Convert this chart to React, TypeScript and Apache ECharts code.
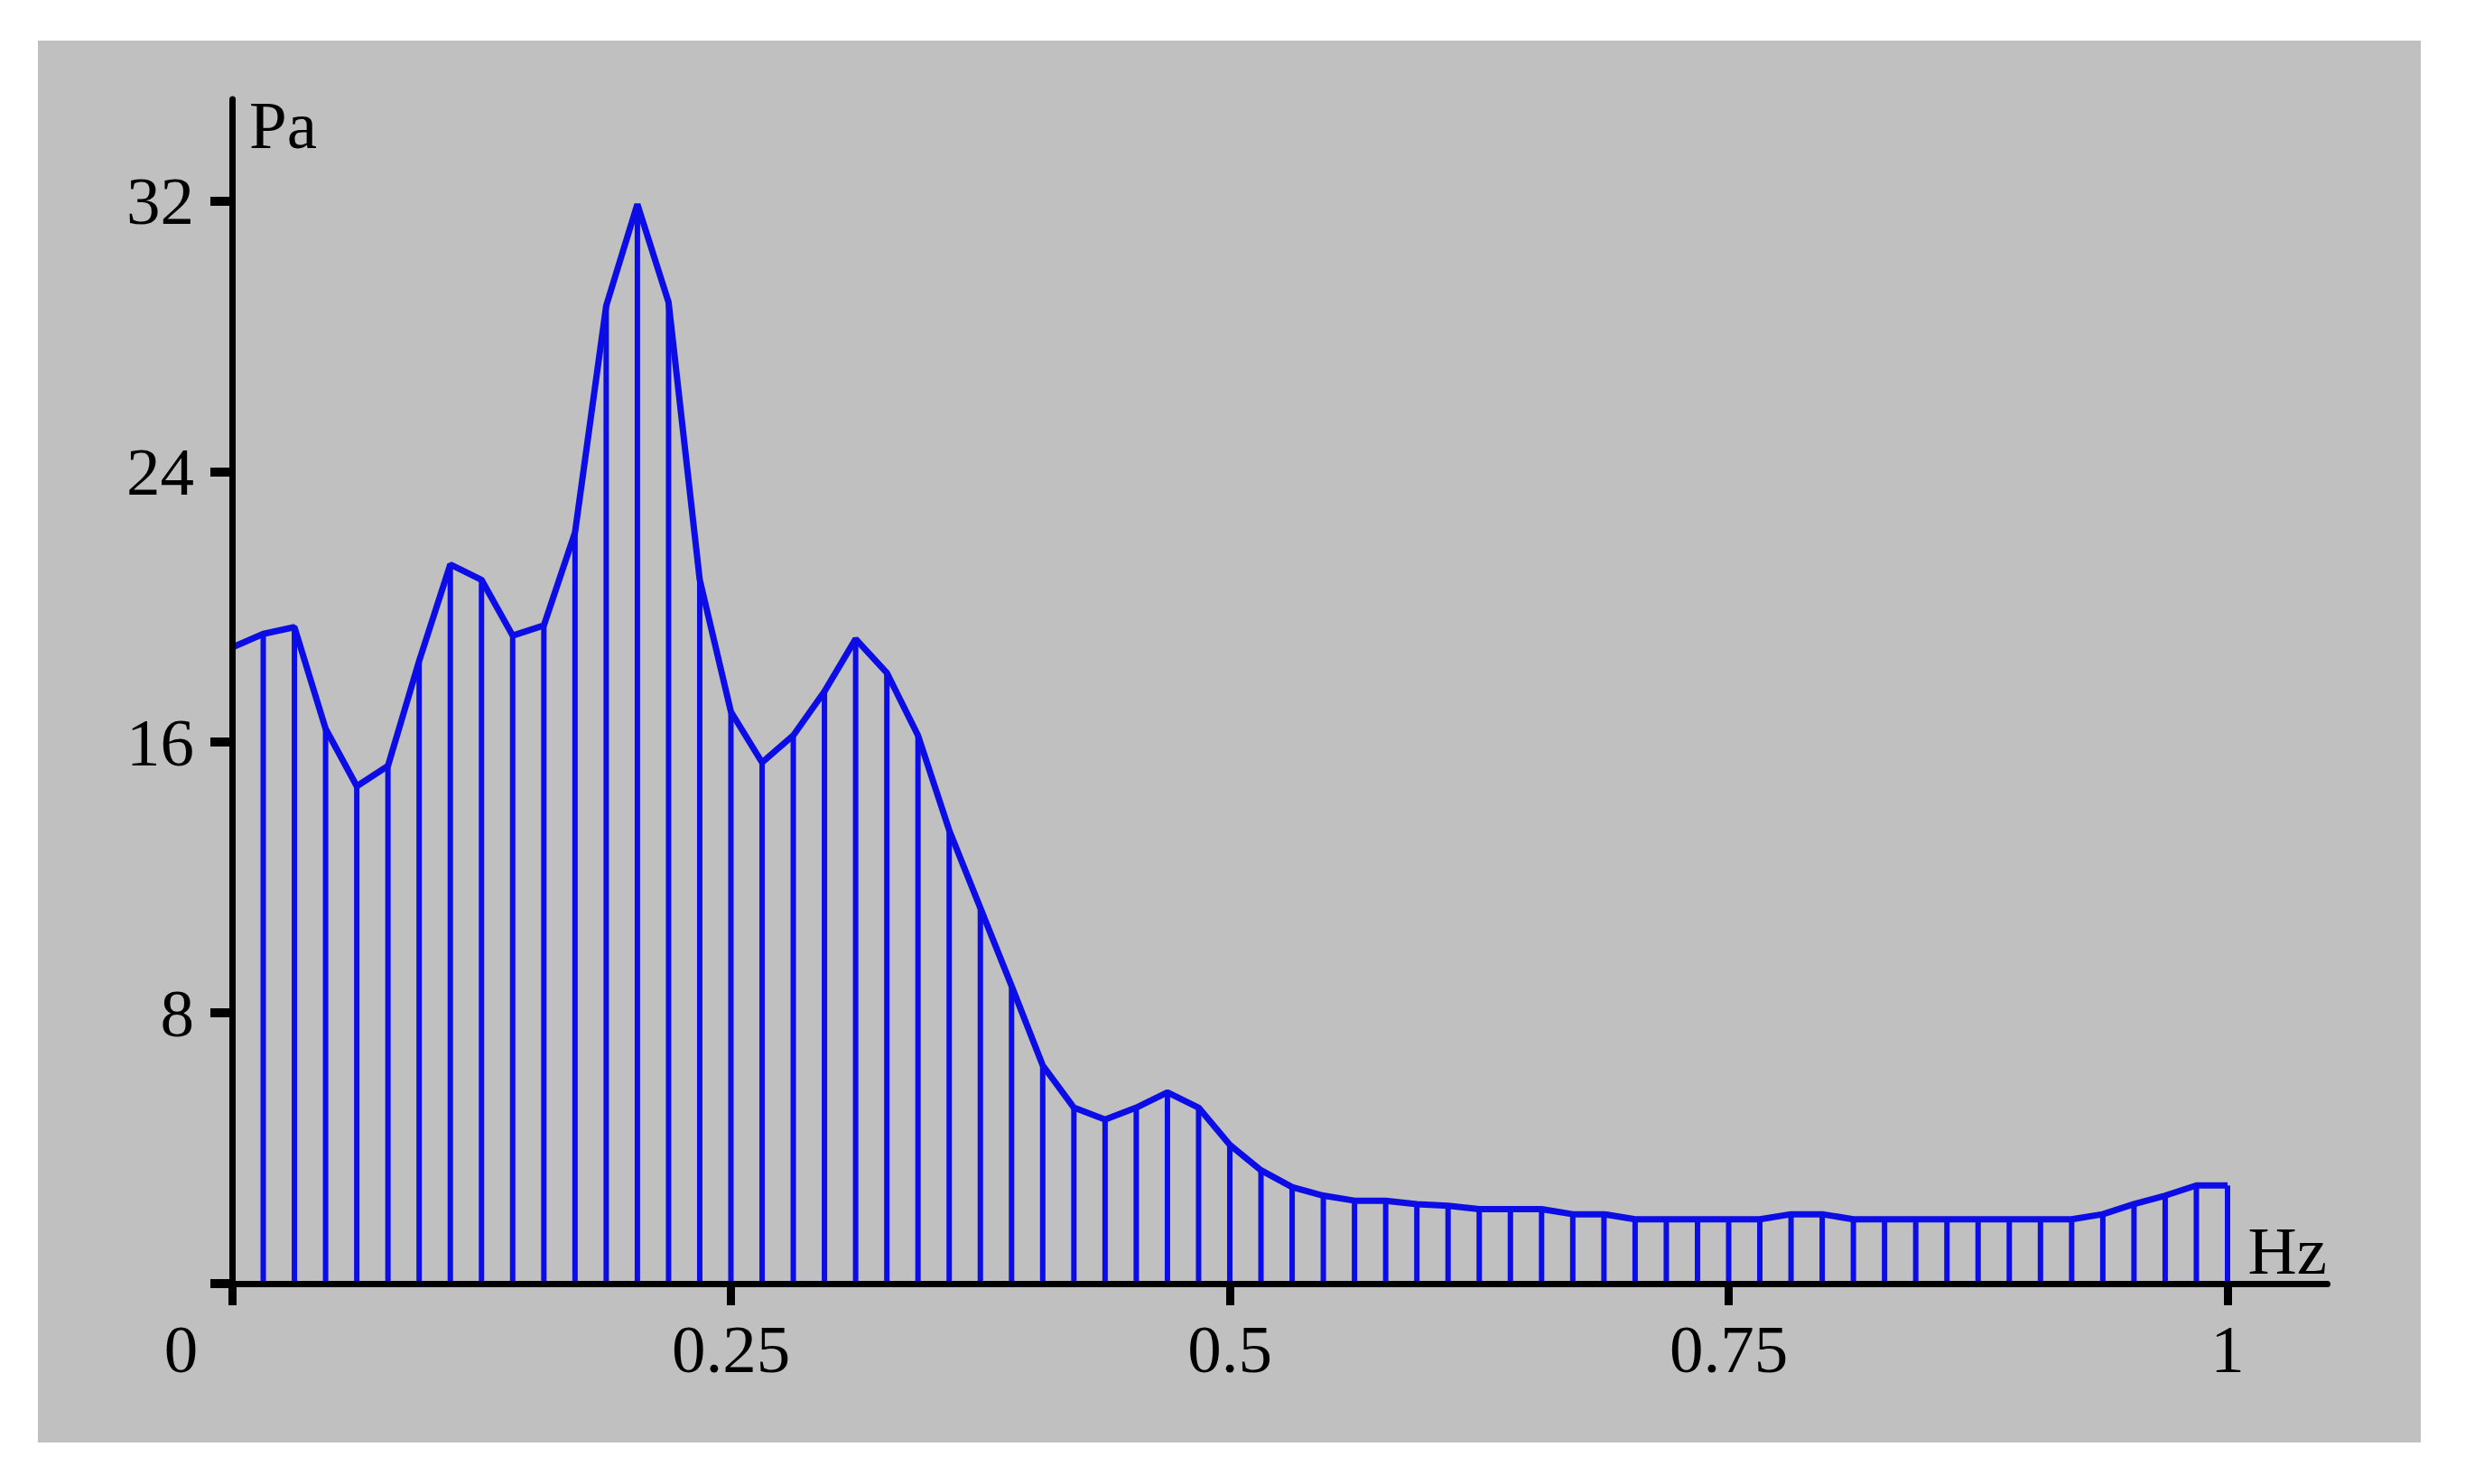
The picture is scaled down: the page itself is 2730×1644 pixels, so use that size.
import React, { useEffect, useRef } from "react";
import * as echarts from "echarts";

// Amplitude (Pa) at each spectral line, lines spaced 1/64 Hz from 0 to 1 Hz
const amplitudes: number[] = [
  18.8, 19.2, 19.4, 16.4, 14.7, 15.3, 18.4, 21.25, 20.8, 19.15,
  19.45, 22.2, 28.9, 31.9, 29.0, 20.8, 16.9, 15.4, 16.2, 17.5,
  19.05, 18.05, 16.2, 13.4, 11.1, 8.8, 6.45, 5.2, 4.85, 5.2,
  5.65, 5.2, 4.1, 3.35, 2.85, 2.6, 2.45, 2.45, 2.35, 2.3,
  2.2, 2.2, 2.2, 2.05, 2.05, 1.9, 1.9, 1.9, 1.9, 1.9,
  2.05, 2.05, 1.9, 1.9, 1.9, 1.9, 1.9, 1.9, 1.9, 1.9,
  2.05, 2.35, 2.6, 2.9, 2.9,
];
const LINES_PER_HZ = 64;
const frequencies: number[] = amplitudes.map((_, i) => i / LINES_PER_HZ);

const xTicks: number[] = [0, 0.25, 0.5, 0.75, 1];
const yTicks: number[] = [0, 8, 16, 24, 32];
const yLabels: number[] = [8, 16, 24, 32];
const xUnit = "Hz";
const yUnit = "Pa";

const BLUE = "#0c0ce6";
const FONT = "Liberation Serif";

export default function App() {
  const ref = useRef<HTMLDivElement>(null);

  useEffect(() => {
    document.body.style.margin = "0";
    if (!ref.current) return;
    const chart = echarts.init(ref.current, null, { renderer: "svg" });
    const points = frequencies.map((f, i) => [f, amplitudes[i]]);

    chart.setOption({
      animation: false,
      backgroundColor: "#ffffff",
      grid: {
        left: 257,
        top: 110,
        right: 2730 - 2577.5,
        bottom: 1644 - 1422,
        containLabel: false,
        outerBoundsMode: "none",
      },
      graphic: [
        {
          type: "rect",
          z: -10,
          silent: true,
          shape: { x: 42, y: 45, width: 2639, height: 1553 },
          style: { fill: "#c0c0c0" },
        },
        {
          type: "text",
          z: 10,
          style: {
            text: yUnit,
            x: 276,
            y: 138,
            fill: "#000",
            fontSize: 75,
            fontFamily: FONT,
            align: "left",
            verticalAlign: "middle",
          },
        },
        {
          type: "text",
          z: 10,
          style: {
            text: xUnit,
            x: 2577,
            y: 1385,
            fill: "#000",
            fontSize: 75,
            fontFamily: FONT,
            align: "right",
            verticalAlign: "middle",
          },
        },
      ],
      xAxis: {
        type: "value",
        min: 0,
        max: 1.05,
        z: 5,
        splitLine: { show: false },
        axisLine: { show: true, lineStyle: { color: "#000", width: 7 } },
        axisTick: {
          show: true,
          length: 24,
          lineStyle: { color: "#000", width: 9 },
          customValues: xTicks,
        },
        axisLabel: {
          customValues: xTicks,
          color: "#000",
          fontSize: 75,
          fontFamily: FONT,
          lineHeight: 75,
          margin: 35,
          formatter: (v: number) => (v === 0 ? "{z|0}" : String(v)),
          rich: {
            z: {
              fontSize: 75,
              fontFamily: FONT,
              color: "#000",
              lineHeight: 75,
              padding: [0, 113, 0, 0],
            },
          },
        },
      },
      yAxis: {
        type: "value",
        min: 0,
        max: 35,
        z: 5,
        splitLine: { show: false },
        axisLine: { show: true, onZero: false, lineStyle: { color: "#000", width: 7 } },
        axisTick: {
          show: true,
          length: 24,
          lineStyle: { color: "#000", width: 10 },
          customValues: yTicks,
        },
        axisLabel: {
          customValues: yLabels,
          color: "#000",
          fontSize: 75,
          fontFamily: FONT,
          margin: 42,
        },
      },
      series: [
        {
          type: "custom",
          z: 2,
          silent: true,
          data: points,
          renderItem: (_params: any, api: any) => {
            const x = api.value(0);
            const y = api.value(1);
            const top = api.coord([x, y]);
            const base = api.coord([x, 0]);
            return {
              type: "line",
              shape: { x1: top[0], y1: top[1], x2: base[0], y2: base[1] },
              style: { stroke: BLUE, lineWidth: 6 },
            };
          },
        },
        {
          type: "line",
          z: 3,
          silent: true,
          data: points,
          symbol: "none",
          lineStyle: { color: BLUE, width: 7 },
        },
      ],
    });
    return () => chart.dispose();
  }, []);

  return (
    <div
      ref={ref}
      style={{ position: "absolute", left: 0, top: 0, width: 2730, height: 1644 }}
    />
  );
}
